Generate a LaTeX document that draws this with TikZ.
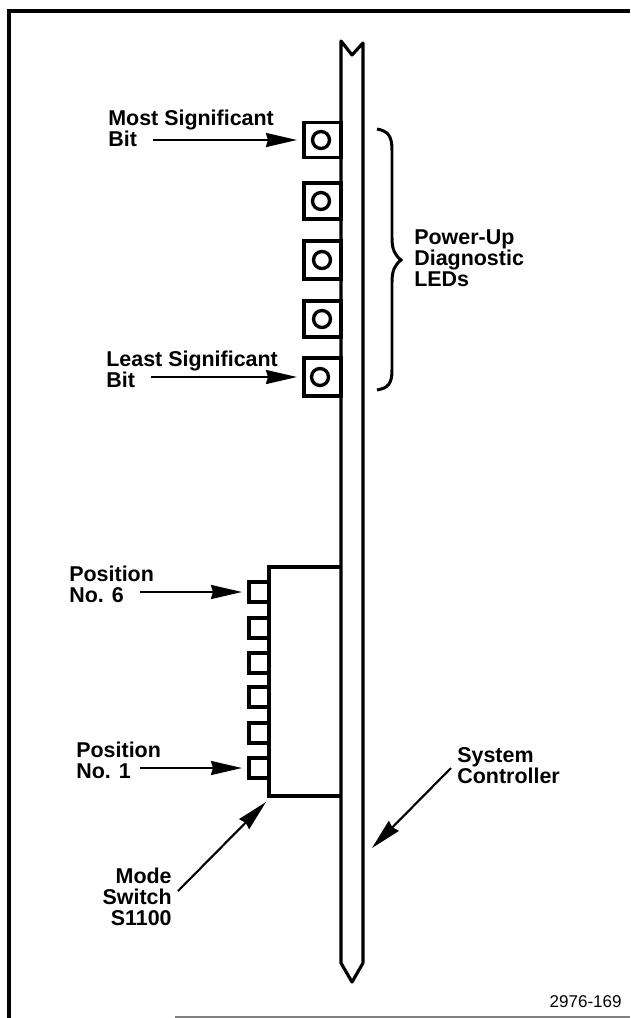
\documentclass[tikz,border=0pt]{standalone}
\usepackage{fontspec}
\setmainfont{Liberation Sans}
\usetikzlibrary{arrows.meta}
\tikzset{
	ledbox/.style={draw, line width=1.9pt, minimum width=0.74cm, inner sep=0pt, outer sep=0pt},
	ledlamp/.style={draw, circle, line width=1.9pt, minimum size=0.34cm, inner sep=0pt, outer sep=0pt},
	posbox/.style={draw, line width=1.9pt, minimum width=0.4cm, minimum height=0.4cm, inner sep=0pt, outer sep=0pt},
	callout/.style={->, line width=1.2pt, shorten >=4pt},
	lbl/.style={font=\bfseries\fontsize{12.2}{11.7}\selectfont, align=left, inner sep=0pt}
}
\begin{document}
\begin{tikzpicture}[x=0.02cm, y=-0.02cm, >={Stealth[length=6.2mm, width=2.8mm, inset=0.4mm]}]
	\useasboundingbox (0,0) rectangle (630,1018);
	
	% Frame
	\draw[line width=1.9pt] (630,11) -- (9,11) -- (9,1018);
	\draw[line width=1.2pt, gray] (175,1017) -- (630,1017);
	
	% LEDs
	\foreach \n/\yc/\h/\xl in {1/140/35/321, 2/201/36/321, 3/260/38/322, 4/319/36/322, 5/377/38/320} {
		\node[ledbox, minimum height=\h*0.02cm] (led\n) at (322.5,\yc) {};
		\node[ledlamp] (lamp\n) at (\xl,\yc) {};
	}
	
	% Mode switch
	\draw[line width=1.9pt] (341,567) -- (269,567) -- (269,796) -- (341,796);
	\foreach \n/\yc in {6/592, 5/628, 4/663, 3/697, 2/733, 1/768} {
		\node[posbox] (pos\n) at (259,\yc) {};
	}
	
	% Board
	\draw[line width=1.8pt, line join=round] (363,963) -- (363,43) -- (352,55) -- (341,41) -- (341,963) -- (352,982) -- (363,963);
	
	% Brace
	\draw[line width=1.7pt] (377,129) .. controls (388,131) and (392,136) .. (392,150)
		-- (392,238) .. controls (392,250) and (395,255) .. (401,260)
		.. controls (395,265) and (392,270) .. (392,282)
		-- (392,370) .. controls (392,384) and (388,388) .. (377,390);
	
	% Labels
	\node[lbl, anchor=base west] (msb) at (108,146) {Most Significant\\Bit};
	\node[lbl, anchor=base west] (lsb) at (106,387) {Least Significant\\Bit};
	\node[lbl, anchor=base west] (diag) at (414,286) {Power-Up\\Diagnostic\\LEDs};
	\node[lbl, anchor=base west] (posix) at (69,602) {Position\\No. 6};
	\node[lbl, anchor=base west] (posone) at (76,778) {Position\\No. 1};
	\node[lbl, anchor=base east, align=right] (mode) at (172,925) {Mode\\Switch\\S1100};
	\node[lbl, anchor=base west] (ctrl) at (457,783) {System\\Controller};
	\node[anchor=base east, inner sep=0pt, font=\fontsize{9.7}{11}\selectfont] (fig) at (622,1007) {2976-169};
	
	% Arrows
	\coordinate (msbfrom) at (153,140);
	\coordinate (lsbfrom) at (151,377);
	\coordinate (sixfrom) at (140,592);
	\coordinate (onefrom) at (140,768);
	\coordinate (modefrom) at (178,891);
	\coordinate (modeto) at (266,802);
	\coordinate (ctrlfrom) at (451,768);
	\coordinate (ctrlto) at (372,848);
	\draw[callout] (msbfrom) -- (led1.west);
	\draw[callout] (lsbfrom) -- (led5.west);
	\draw[callout] (sixfrom) -- (pos6.west);
	\draw[callout] (onefrom) -- (pos1.west);
	\draw[callout, shorten >=0pt] (modefrom) -- (modeto);
	\draw[callout, shorten >=0pt] (ctrlfrom) -- (ctrlto);
\end{tikzpicture}
\end{document}
